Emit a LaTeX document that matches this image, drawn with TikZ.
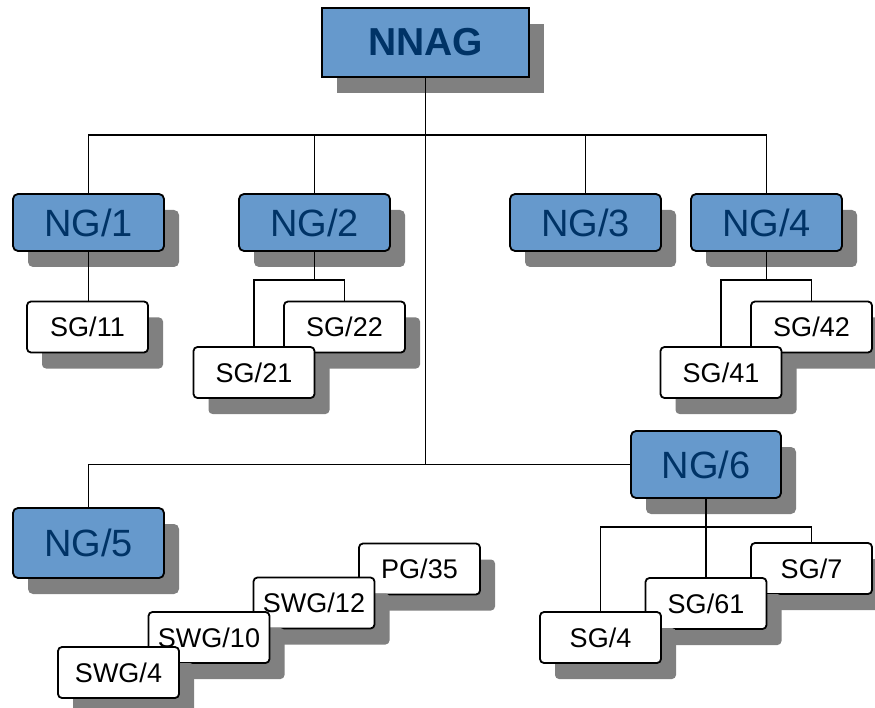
\documentclass[tikz,border=0pt]{standalone}
\usepackage{fontspec}
\setmainfont{Liberation Sans}
\usetikzlibrary{shadows}

\definecolor{groupblue}{RGB}{102,153,204}
\definecolor{groupnavy}{RGB}{0,51,102}
\definecolor{shadowgray}{RGB}{128,128,128}

\begin{document}
\begin{tikzpicture}[x=1pt, y=-1pt, line width=1.8pt,
		boxshadow/.style={drop shadow={shadow xshift=15pt, shadow yshift=-16pt, fill=shadowgray, opacity=1}},
		topbox/.style={draw, fill=groupblue, text=groupnavy, boxshadow, inner sep=0pt, minimum width=207pt, minimum height=69pt, font=\fontsize{39}{44}\selectfont\bfseries},
		ngbox/.style={draw, rounded corners=5pt, fill=groupblue, text=groupnavy, boxshadow, inner sep=0pt, minimum width=151pt, minimum height=57pt, font=\fontsize{38}{44}\selectfont},
		sgbox/.style={draw, rounded corners=4pt, fill=white, boxshadow, inner sep=0pt, minimum width=121pt, minimum height=51pt, font=\fontsize{27}{30}\selectfont}]
			\useasboundingbox (0,0) rectangle (875,708);
			% main groups
			\node[topbox] (nnag) at (425.5,42.5) {NNAG};
			\node[ngbox] (ng1) at (88.5,222.5) {NG/1};
			\node[ngbox] (ng2) at (314.5,222.5) {NG/2};
			\node[ngbox] (ng3) at (585.5,222.5) {NG/3};
			\node[ngbox] (ng4) at (766.5,222.5) {NG/4};
			\node[ngbox, minimum height=70pt] (ng5) at (88.5,543) {NG/5};
			\node[ngbox, minimum width=150pt, minimum height=67pt] (ng6) at (706,464.5) {NG/6};
			% sub groups
			\node[sgbox] (sg11) at (87.5,327) {SG/11};
			\node[sgbox] (sg22) at (344.5,327) {SG/22};
			\node[sgbox] (sg21) at (254,372.5) {SG/21};
			\node[sgbox] (sg42) at (811.5,327) {SG/42};
			\node[sgbox] (sg41) at (721,372.5) {SG/41};
			\node[sgbox] (pg35) at (419.5,569) {PG/35};
			\node[sgbox] (swg12) at (314,603) {SWG/12};
			\node[sgbox] (swg10) at (209,637.5) {SWG/10};
			\node[sgbox] (swg4) at (118.5,672.5) {SWG/4};
			\node[sgbox] (sg7) at (811.5,568.5) {SG/7};
			\node[sgbox] (sg61) at (706,603.5) {SG/61};
			\node[sgbox] (sg4) at (600.5,637.5) {SG/4};
			% connectors
			\coordinate (topbus) at (425.5,135);
			\draw (nnag.south) -- (topbus);
			\draw (ng1.north) |- (topbus) -| (ng4.north);
			\draw (ng2.north) -- (ng2.north |- topbus);
			\draw (ng3.north) -- (ng3.north |- topbus);
			\draw (topbus) -- (topbus |- ng6.west);
			\draw (ng5.north) |- (ng6.west);
			\draw (ng1.south) -- (ng1.south |- sg11.north);
			\draw (ng2.south) -- ++(0,28) coordinate (fork2);
			\draw (sg21.north) |- (fork2) -| (sg22.north);
			\draw (ng4.south) -- ++(0,28) coordinate (fork4);
			\draw (sg41.north) |- (fork4) -| (sg42.north);
			\draw (ng6.south) -- ++(0,28) coordinate (fork6);
			\draw (sg4.north) |- (fork6) -| (sg7.north);
			\draw (fork6) -- (sg61.north);
		\end{tikzpicture}
\end{document}
